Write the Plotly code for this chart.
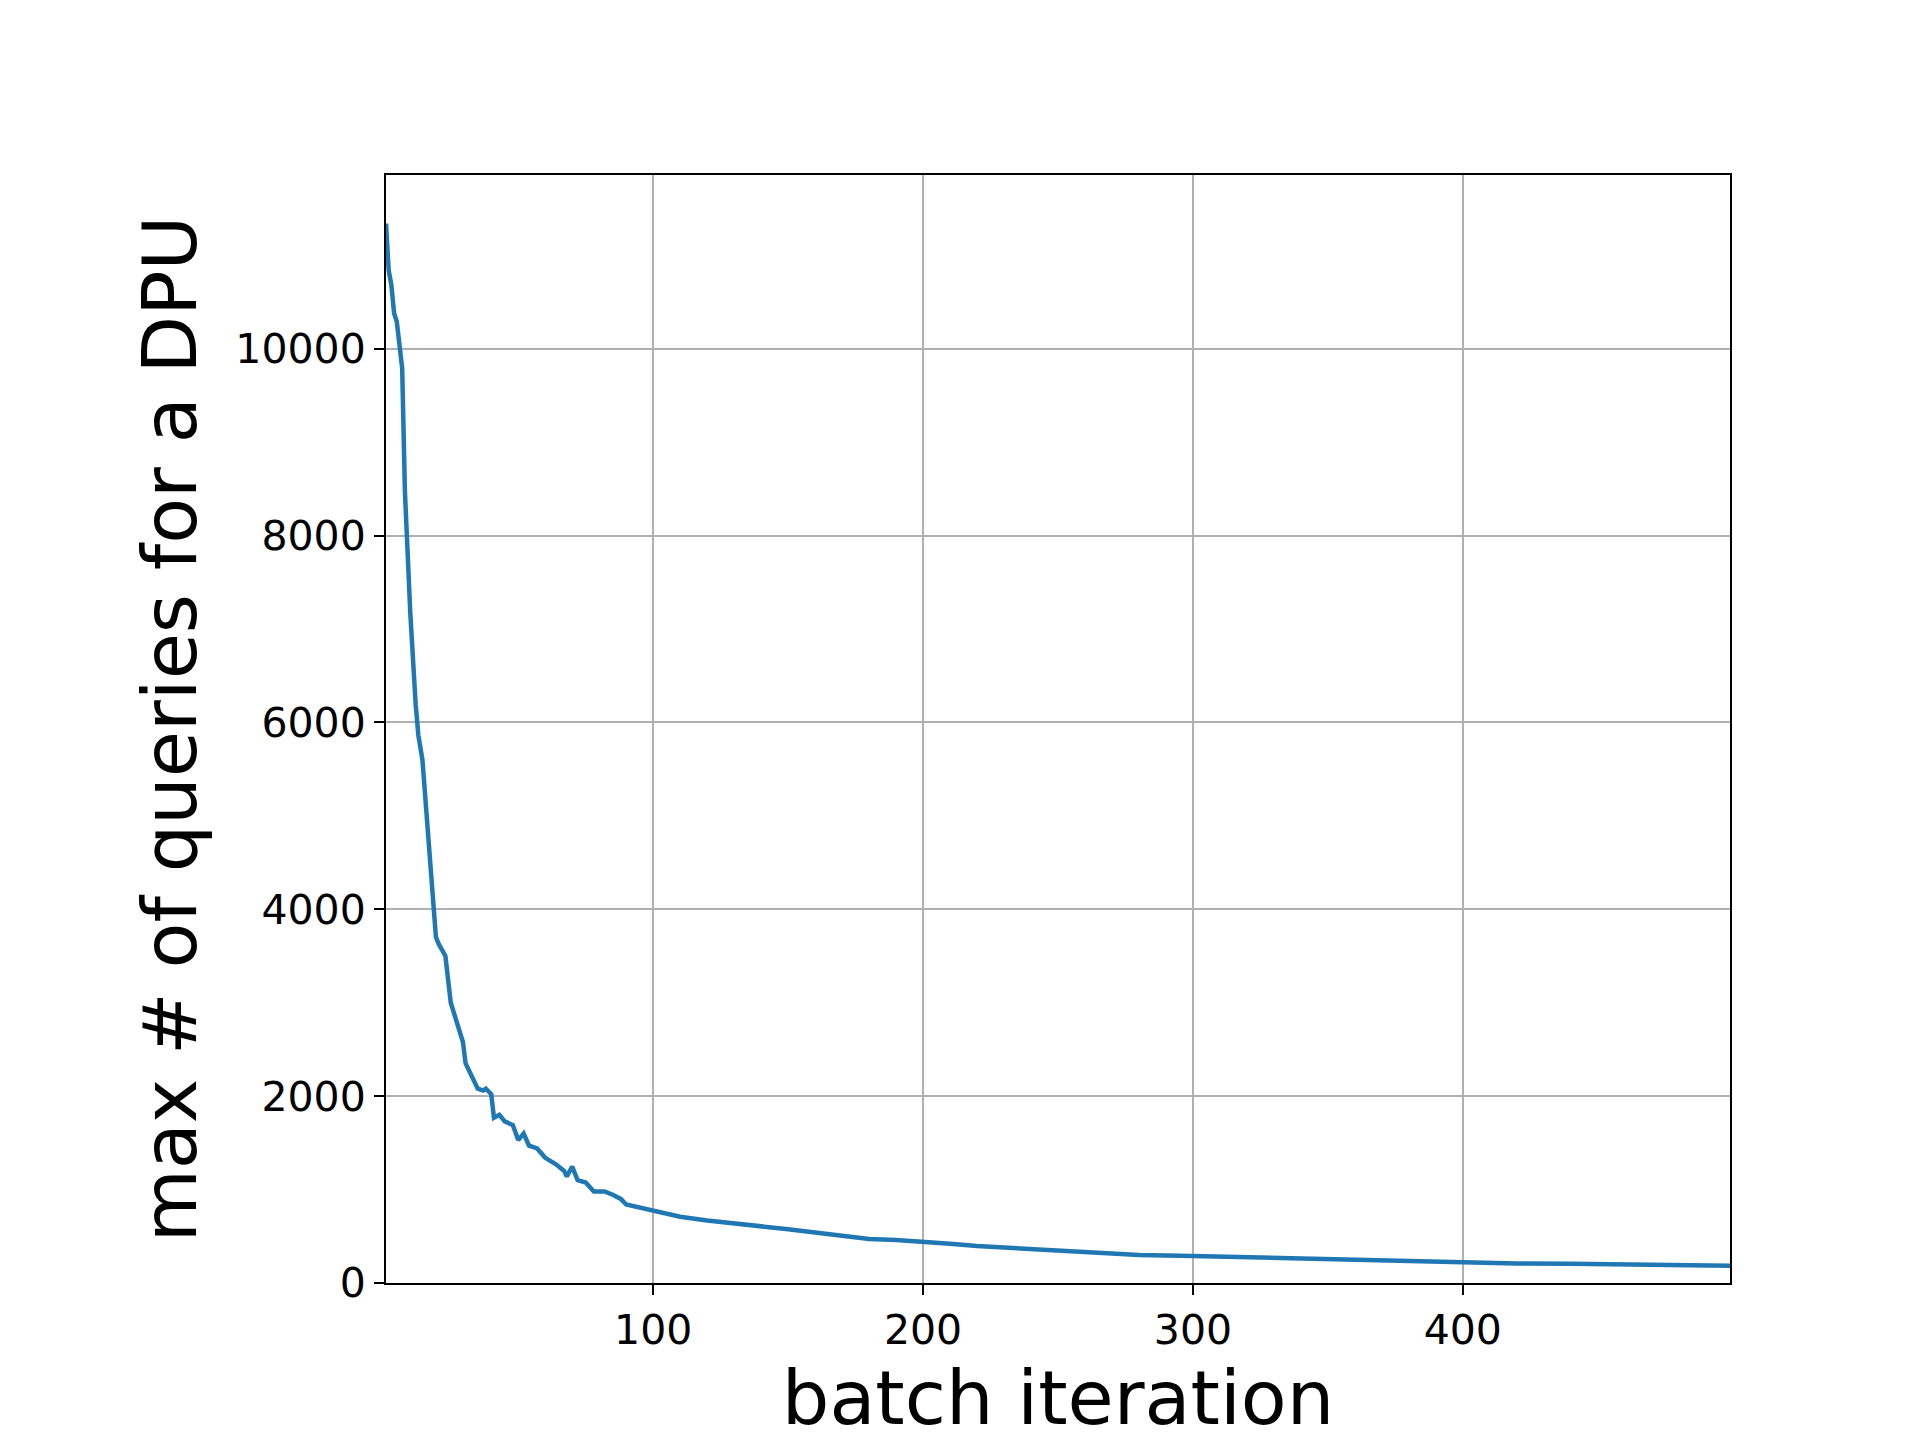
import plotly.graph_objects as go

iteration = [1,2,3,4,5,7,8,10,12,13,14.5,15.5,18,19.5,20.5,22,23,25,26,28,29.5,30.5,33,35,37,38,40,41,43,45,48,50,52,54,57,60,64,67,68,70,72,75,78,82,85,88,90,95,100,105,110,120,130,140,150,160,170,180,190,200,210,220,230,240,250,260,280,300,320,340,360,380,400,420,440,460,480,499]
max_queries = [11340,10840,10680,10380,10290,9790,8480,7170,6190,5860,5600,5200,4290,3700,3630,3560,3500,3000,2910,2710,2580,2350,2210,2080,2060,2080,2020,1770,1800,1730,1690,1530,1600,1470,1440,1340,1270,1200,1140,1245,1100,1075,980,980,945,900,840,810,775,750,710,670,640,615,575,540,510,470,460,445,420,395,380,365,340,330,300,290,275,260,250,235,225,210,205,195,190,185]
x_ticks = [100, 200, 300, 400]
y_ticks = [0, 2000, 4000, 6000, 8000, 10000]

fig = go.Figure(go.Scatter(x=iteration, y=max_queries, mode="lines",
                           line=dict(color="#1f77b4", width=4.5)))
axis_common = dict(showline=True, linecolor="black", linewidth=2, mirror=True,
                   showgrid=True, gridcolor="#b0b0b0", gridwidth=2,
                   ticks="outside", ticklen=10, tickwidth=2, tickcolor="black",
                   tickfont=dict(family="DejaVu Sans", size=41, color="black"),
                   zeroline=False)
fig.update_xaxes(range=[1, 499], tickvals=x_ticks, tickformat="d",
                 title=dict(text="batch iteration", font=dict(family="DejaVu Sans", size=75, color="black"), standoff=14),
                 **axis_common)
fig.update_yaxes(range=[0, 11860], tickvals=y_ticks, tickformat="d",
                 title=dict(text="max # of queries for a DPU", font=dict(family="DejaVu Sans", size=75, color="black"), standoff=14),
                 **axis_common)
fig.update_layout(width=1920, height=1440, showlegend=False,
                  plot_bgcolor="white", paper_bgcolor="white",
                  margin=dict(l=378, r=198, t=167, b=165))
fig.write_html("out.html")
